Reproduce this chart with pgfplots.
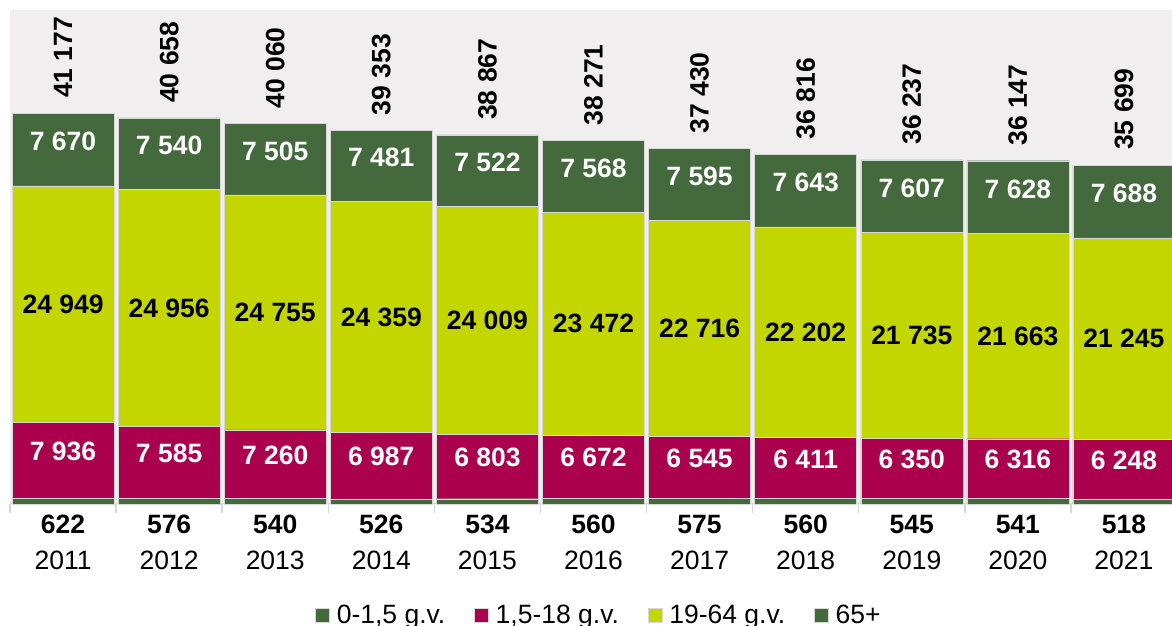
\documentclass[border=0pt]{standalone}
\usepackage{pgfplots}
\pgfplotsset{compat=1.18}
\usepackage{pgfplotstable}
\usepackage{fontspec}
\setmainfont{Liberation Sans}
\definecolor{cGreen}{RGB}{68,105,61}
\definecolor{cMag}{RGB}{170,0,78}
\definecolor{cYel}{RGB}{196,214,0}
\definecolor{cBg}{RGB}{240,238,239}
\definecolor{cEdge}{RGB}{215,215,215}
\newcommand{\lblfont}{\fontsize{26.5bp}{30bp}\selectfont}

\pgfplotstableread{
x year a b c d t
0 2011 622 7936 24949 7670 41177
1 2012 576 7585 24956 7540 40658
2 2013 540 7260 24755 7505 40060
3 2014 526 6987 24359 7481 39353
4 2015 534 6803 24009 7522 38867
5 2016 560 6672 23472 7568 38271
6 2017 575 6545 22716 7595 37430
7 2018 560 6411 22202 7643 36816
8 2019 545 6350 21735 7607 36237
9 2020 541 6316 21663 7628 36147
10 2021 518 6248 21245 7688 35699
}\data

\pgfplotsset{common/.style={
  at={(0,0)}, anchor=south west,
  scale only axis, width=1167bp, height=493.5bp,
  xmin=-0.5, xmax=10.5, ymin=0, ymax=52000,
  clip=false}}

\begin{document}
\begin{tikzpicture}
\begin{axis}[common,
  ybar stacked, bar width=102bp,
  axis y line=none, axis x line*=bottom,
  x axis line style={draw=cEdge, line width=1.2bp},
  axis background/.style={fill=cBg},
  xtick={0,...,10},
  xticklabels from table={\data}{year},
  major tick length=0pt,
  minor xtick={-0.5,0.5,...,10.5},
  minor tick length=9bp,
  tick align=outside,
  minor tick style={draw=cEdge, line width=1.5bp},
  xticklabel style={font=\lblfont, inner sep=0pt, anchor=north, yshift=-47bp},
  legend style={at={(0.5047,-0.2251)}, anchor=center, draw=none, fill=none,
    font=\lblfont, inner sep=0pt,
    /tikz/every odd column/.append style={column sep=5bp},
    /tikz/every even column/.append style={column sep=27bp}},
  legend columns=4,
  legend cell align=left,
  legend image code/.code={\fill[#1] (0bp,-7bp) rectangle (14bp,7bp);},
]
\addplot[fill=cGreen, draw=cEdge, line width=0.4bp] table[x=x, y=a]{\data};
\addlegendentry{0-1,5 g.v.}
\addplot[fill=cMag, draw=cEdge, line width=0.4bp] table[x=x, y=b]{\data};
\addlegendentry{1,5-18 g.v.}
\addplot[fill=cYel, draw=cEdge, line width=0.4bp] table[x=x, y=c]{\data};
\addlegendentry{19-64 g.v.}
\addplot[fill=cGreen, draw=cEdge, line width=0.4bp] table[x=x, y=d]{\data};
\addlegendentry{65+}
\end{axis}
\begin{axis}[common, hide axis,
  point meta=explicit, nodes near coords,
  /pgf/number format/.cd, fixed, precision=0, 1000 sep={\ }, assume math mode=true,
  /pgfplots/.cd,
  every node near coord/.append style={font=\bfseries\lblfont}]
% 0-1,5 g.v. values below the axis
\addplot[draw=none, mark=none,
  nodes near coords style={text=black, anchor=north, inner sep=0pt, yshift=-11.2bp}]
  table[x=x, y expr=0, meta=a]{\data};
% 1,5-18 g.v.
\addplot[draw=none, mark=none,
  nodes near coords style={text=white, anchor=center, yshift=9bp}]
  table[x=x, y expr=\thisrow{a}+0.5*\thisrow{b}, meta=b]{\data};
% 19-64 g.v.
\addplot[draw=none, mark=none,
  nodes near coords style={text=black, anchor=center}]
  table[x=x, y expr=\thisrow{a}+\thisrow{b}+0.5*\thisrow{c}, meta=c]{\data};
% 65+
\addplot[draw=none, mark=none,
  nodes near coords style={text=white, anchor=center, yshift=8bp}]
  table[x=x, y expr=\thisrow{a}+\thisrow{b}+\thisrow{c}+0.5*\thisrow{d}, meta=d]{\data};
% totals
\addplot[draw=none, mark=none,
  nodes near coords style={text=black, rotate=90, anchor=west, inner sep=0pt, inner xsep=15bp}]
  table[x=x, y=t, meta=t]{\data};
\end{axis}
\pgfresetboundingbox
\useasboundingbox (-10bp,-122.2bp) rectangle (1162bp,503.8bp);
\end{tikzpicture}
\end{document}
